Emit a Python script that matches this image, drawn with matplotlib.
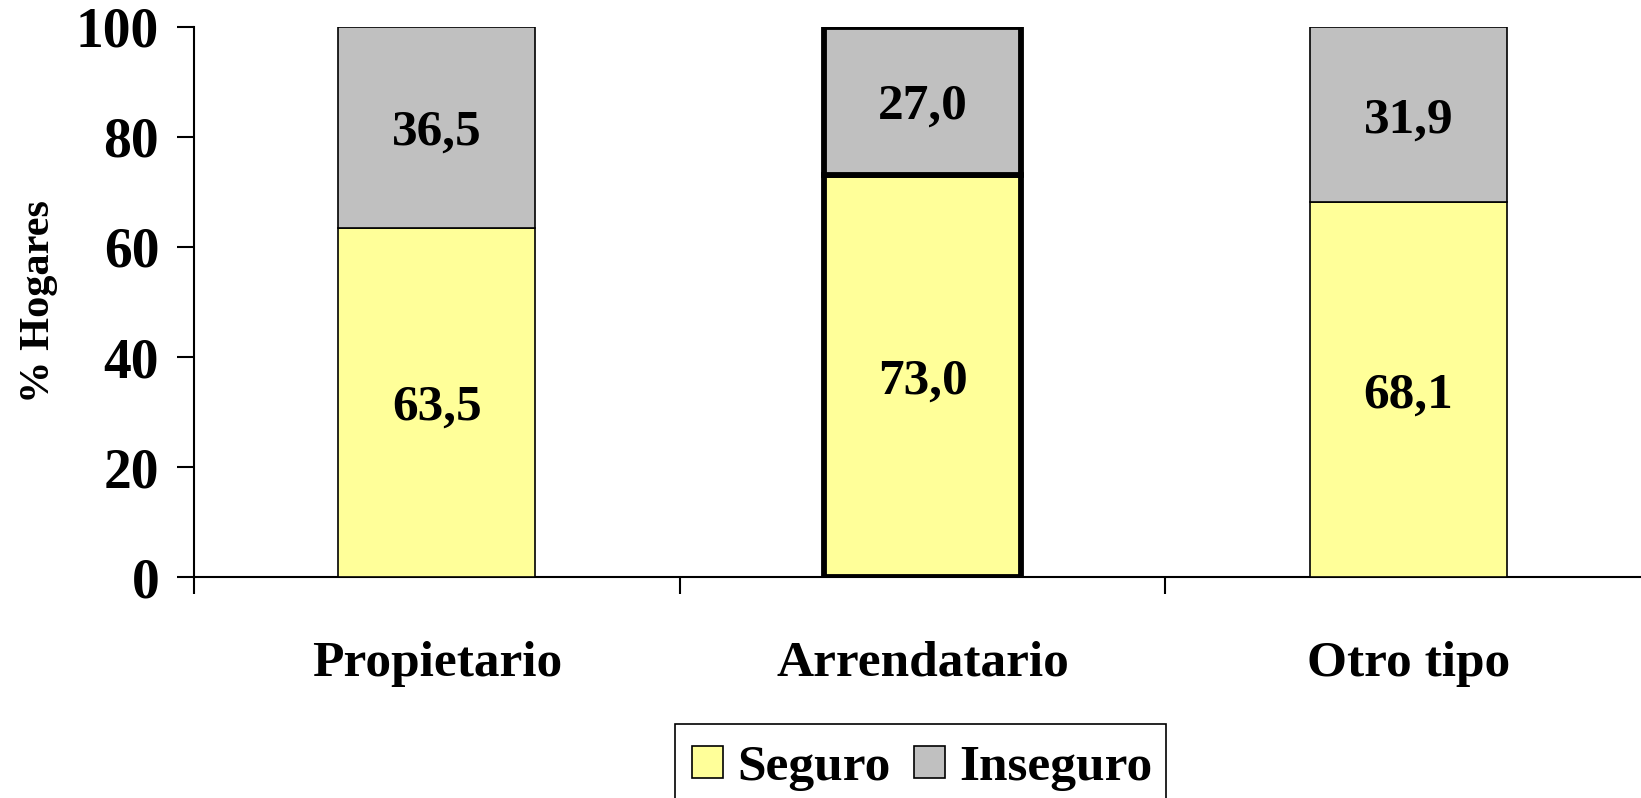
import numpy as np
import matplotlib
matplotlib.use('Agg')
import matplotlib.pyplot as plt
from matplotlib.patches import Patch, Rectangle

# tenencia de la vivienda
categorias = ['Propietario', 'Arrendatario', 'Otro tipo']
seguro = [63.5, 73.0, 68.1]
inseguro = [36.5, 27.0, 31.9]
yticks = [0, 20, 40, 60, 80, 100]

color_seg = '#FFFF99'
color_ins = '#C0C0C0'

plt.rcParams['font.family'] = ['Liberation Serif', 'DejaVu Serif']
plt.rcParams['font.weight'] = 'bold'
fs = 37

W, H = 1641, 798
fig = plt.figure(figsize=(W / 100, H / 100), dpi=100)
ax = fig.add_axes([0.1182, 0.2769, 0.888, 0.6893])

x = np.arange(len(categorias)) + 0.5
lw = [1.2, 4.2, 1.2]


def etiqueta(xv, yv, val):
    ax.annotate(f'{val:.1f}'.replace('.', ','), (xv, yv), xytext=(0, -4),
                textcoords='offset points', ha='center', va='center',
                fontsize=fs, fontweight='bold', zorder=4)


for i in range(len(categorias)):
    ax.bar(x[i], seguro[i], width=0.405, color=color_seg, edgecolor='black',
           linewidth=lw[i], joinstyle='miter', zorder=3)
    ax.bar(x[i], inseguro[i], width=0.405, bottom=seguro[i], color=color_ins,
           edgecolor='black', linewidth=lw[i], joinstyle='miter', zorder=3)
    etiqueta(x[i], seguro[i] / 2, seguro[i])
    etiqueta(x[i], seguro[i] + inseguro[i] / 2, inseguro[i])

ax.set_xlim(0, 3)
ax.set_ylim(0, 100)
ax.set_yticks(yticks)
ax.set_yticklabels([str(v) for v in yticks], fontsize=40, fontweight='bold')
ax.set_xticks(x)
ax.set_xticklabels(categorias, fontsize=fs, fontweight='bold')
ax.set_xticks([0, 1, 2, 3], minor=True)
ax.tick_params(axis='x', which='major', length=0, pad=46)
ax.tick_params(axis='x', which='minor', length=12, width=1.5, direction='out')
ax.tick_params(axis='y', length=12, width=1.5, direction='out', pad=13)
ax.set_ylabel('% Hogares', fontsize=30.5, fontweight='bold')
ax.yaxis.set_label_coords(-0.0933, 0.5)

for s in ['top', 'right']:
    ax.spines[s].set_visible(False)
for s in ['left', 'bottom']:
    ax.spines[s].set_linewidth(1.5)

# leyenda con marco propio, abierto por abajo
handles = [Patch(facecolor=color_seg, edgecolor='black', linewidth=1.2),
           Patch(facecolor=color_ins, edgecolor='black', linewidth=1.2)]
leg = fig.legend(handles, ['Seguro', 'Inseguro'], loc='upper left',
                 bbox_to_anchor=(692 / W, 1 - 745 / H), ncol=2, fontsize=fs,
                 frameon=False, handlelength=0.6, handleheight=0.6,
                 handletextpad=0.28, columnspacing=0.45,
                 borderpad=0, borderaxespad=0)
for t in leg.get_texts():
    t.set_fontweight('bold')
fig.add_artist(Rectangle((675 / W, -0.1), (1166 - 675) / W, 0.1 + 1 - 724 / H,
                         transform=fig.transFigure, facecolor='none',
                         edgecolor='black', linewidth=1.2))

fig.savefig('out.png', dpi=100)
